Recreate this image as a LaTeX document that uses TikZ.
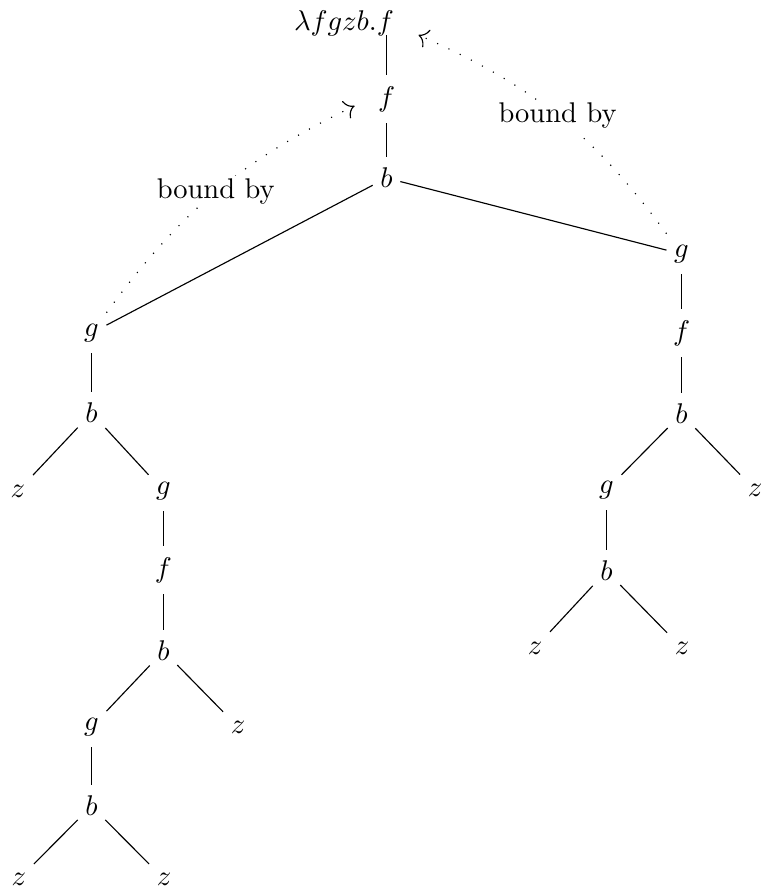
\documentclass[tikz,border=0pt]{standalone}
\usetikzlibrary{arrows.meta,decorations.markings}
\begin{document}
\begin{tikzpicture}[x=0.351pt,y=-0.351pt,
  tn/.style={inner xsep=2.5pt,inner ysep=3.8pt},
  edge/.style={line width=0.4pt},
  bind/.style={loosely dotted,line width=0.4pt,
    postaction={decorate,decoration={markings,
      mark=at position 1 with {\arrow[solid]{To[scale=1.3]}}}}},
  lbl/.style={fill=white,inner sep=1pt}]
\useasboundingbox (0,0) rectangle (762,888);
\node[tn,inner sep=0pt] (root) at (344,23) {$\lambda fgzb.f$};
\coordinate (rt) at (386.5,35);
\node[tn] (f1) at (386.5,99) {$f$};
\node[tn] (b1) at (386.5,178) {$b$};
% left subtree
\node[tn] (lg) at (91.5,333) {$g$};
\node[tn] (lb) at (91.5,413) {$b$};
\node[tn] (lz) at (18,491) {$z$};
\node[tn] (lg2) at (163.5,491) {$g$};
\node[tn] (lf) at (163.5,570) {$f$};
\node[tn] (lb2) at (163.5,651) {$b$};
\node[tn] (lg3) at (91.5,727) {$g$};
\node[tn] (lz2) at (238,727) {$z$};
\node[tn] (lb3) at (91.5,806) {$b$};
\node[tn] (lz3) at (19,879) {$z$};
\node[tn] (lz4) at (164,879) {$z$};
% right subtree
\node[tn] (rg) at (681.5,254) {$g$};
\node[tn] (rf) at (681.5,333) {$f$};
\node[tn] (rb) at (681.5,414) {$b$};
\node[tn] (rg2) at (606.5,490) {$g$};
\node[tn] (rz) at (755,490) {$z$};
\node[tn] (rb2) at (606.5,571) {$b$};
\node[tn] (rz1) at (535,648) {$z$};
\node[tn] (rz2) at (682,648) {$z$};
% edges
\draw[edge] (rt) -- (f1);
\draw[edge] (f1) -- (b1);
\draw[edge] (b1) -- (lg);
\draw[edge] (b1) -- (rg);
\draw[edge] (lg) -- (lb);
\draw[edge] (lb) -- (lz);
\draw[edge] (lb) -- (lg2);
\draw[edge] (lg2) -- (lf);
\draw[edge] (lf) -- (lb2);
\draw[edge] (lb2) -- (lg3);
\draw[edge] (lb2) -- (lz2);
\draw[edge] (lg3) -- (lb3);
\draw[edge] (lb3) -- (lz3);
\draw[edge] (lb3) -- (lz4);
\draw[edge] (rg) -- (rf);
\draw[edge] (rf) -- (rb);
\draw[edge] (rb) -- (rg2);
\draw[edge] (rb) -- (rz);
\draw[edge] (rg2) -- (rb2);
\draw[edge] (rb2) -- (rz1);
\draw[edge] (rb2) -- (rz2);
% binding arrows
\draw[bind] (lg.north east) to[bend left=14] node[lbl] {bound by} ([shift={(-16,7)}]f1.west);
\draw[bind] (rg.north west) to[bend right=15] node[lbl] {bound by} ([shift={(24,12)}]root.east);
\end{tikzpicture}
\end{document}
